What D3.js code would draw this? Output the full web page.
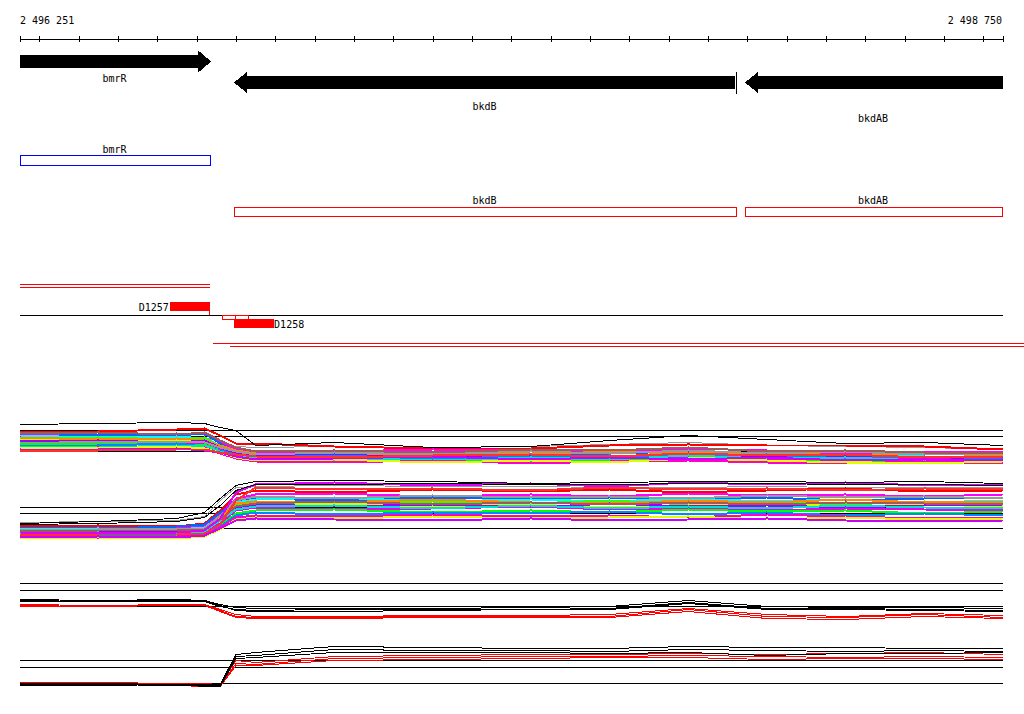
<!DOCTYPE html>
<html>
<head>
<meta charset="utf-8">
<title>bmrR / bkdB / bkdAB</title>
<style>
  body { margin: 0; background: #fff; }
  svg { display: block; }
  text { font-family: "DejaVu Sans Mono", monospace; font-size: 10px; fill: #000; }
  path, rect, line { shape-rendering: crispEdges; }
</style>
<script src="https://d3js.org/d3.v7.min.js"></script>
</head>
<body>
<script>

// genomic window
const viewRange = [2496251, 2498750];
const endLabels = ["2 496 251", "2 498 750"];
const tickPos = d3.range(2496300, 2498750, 100);

const geneNames   = ["bmrR", "bkdB", "bkdAB"];
const geneStarts  = [2496251, 2496795, 2498094];
const geneEnds    = [2496737, 2498074, 2498750];
const geneStrands = [1, -1, -1];

// oligo probes
const probeNames  = ["D1257", "D1258"];
const probeStarts = [2496632, 2496795];
const probeEnds   = [2496734, 2496897];
const probeBoxes  = [[2496764, 2496797], [2496797, 2496830]];
const redUpper    = [[2496251, 2496734], [2496251, 2496734]];
const redLower    = [[2496742, 2498810], [2496785, 2498810]];

// positions where the profiles were sampled
const knotPos = [2496251, 2496450, 2496650, 2496720, 2496760, 2496800, 2496850, 2497050,
                 2497300, 2497550, 2497750, 2497950, 2498150, 2498350, 2498550, 2498750];

// panel A (first colour block)
const panelARef = [2.1, 1.5, 0];
const panelABlack = [2.7,2.8,2.9,2.8,2.4,2.1,0.6,0.9,0.4,0.5,1.1,1.6,1.2,0.8,0.9,0.6];
const panelAGray  = [1.4,1.5,1.5,1.4,1.0,0.5,0.4,0.5,0.4,0.5,0.7,0.9,0.6,0.5,0.4,0.2];
const panelAColor = [
  [1.9,2.0,2.2,2.3,1.6,0.8,0.8,0.5,0.3,0.3,0.6,0.7,0.6,0.6,0.5,0.2],
  [1.7,1.6,1.8,1.7,1.0,0.2,-0.1,0,0.2,0.1,-0.1,0.3,0.1,-0.2,-0.1,0],
  [1.5,1.7,1.6,1.8,0.8,0,-0.3,-0.5,-0.3,-0.6,-0.2,0,-0.4,-0.3,-0.6,-0.5],
  [1.6,1.4,1.5,1.3,0.6,-0.2,-0.4,-0.2,-0.7,-0.4,-0.6,-0.2,-0.6,-0.4,-0.5,-0.8],
  [1.3,1.4,1.2,1.4,0.5,-0.3,-0.6,-0.8,-0.5,-0.7,-0.4,-0.5,-0.8,-0.6,-0.9,-0.7],
  [1.1,1.2,1.1,1.0,0.3,-0.5,-0.8,-0.6,-1.0,-0.8,-0.9,-0.6,-0.7,-1.0,-0.8,-1.1],
  [1.4,1.2,1.3,1.1,0.6,0.1,-0.2,-0.4,-0.1,-0.3,0,-0.2,-0.1,-0.4,-0.2,-0.4],
  [1.0,1.1,0.9,1.1,0.4,-0.2,-0.5,-0.3,-0.6,-0.4,-0.7,-0.3,-0.5,-0.4,-0.7,-0.6],
  [0.9,0.7,0.9,0.8,0.2,-0.4,-0.7,-0.9,-0.7,-0.9,-0.6,-0.7,-0.8,-0.9,-0.7,-1.0],
  [0.8,1.0,1.0,0.9,0.4,0,-0.3,-0.1,-0.3,0,-0.2,0.1,-0.2,0,-0.3,-0.2],
  [0.7,0.8,0.6,0.7,0.1,-0.5,-0.8,-1.0,-0.8,-1.1,-0.9,-0.8,-1.0,-0.8,-1.1,-1.0],
  [0.6,0.6,0.8,0.5,0.1,-0.3,-0.6,-0.4,-0.7,-0.5,-0.4,-0.5,-0.3,-0.7,-0.5,-0.7],
  [0.5,0.4,0.6,0.6,0,-0.4,-0.7,-0.6,-0.9,-0.6,-0.8,-0.4,-0.7,-0.6,-0.9,-0.8],
  [0.3,0.4,0.3,0.4,-0.2,-0.7,-1.0,-1.1,-0.9,-1.2,-1.0,-0.9,-1.1,-1.2,-1.0,-1.2],
  [0.4,0.3,0.5,0.3,-0.1,-0.6,-0.9,-0.8,-1.1,-0.9,-1.1,-0.7,-0.9,-1.1,-1.2,-1.0],
  [1.8,1.9,1.7,1.9,1.1,0.4,0,0.1,-0.1,0.2,0.1,0.4,0,0.1,-0.1,-0.1],
  [0.2,0.2,0.3,0.1,-0.1,-0.5,-0.8,-0.7,-0.5,-0.8,-0.6,-0.8,-0.6,-0.9,-0.8,-0.9],
  [0.1,0.1,0.2,0.2,-0.1,-0.3,-0.5,-0.6,-0.4,-0.3,-0.5,-0.2,-0.4,-0.3,-0.6,-0.5]
];

// panel B (second colour block)
const panelBRef = [2.1, 1.5, 0];
const panelBBlack = [
  [0.5,0.7,1.0,1.6,3.0,4.3,4.7,4.8,4.7,4.5,4.6,4.7,4.7,4.6,4.7,4.5],
  [0.4,0.5,0.7,1.1,2.3,3.8,4.4,4.4,4.5,4.4,4.4,4.5,4.5,4.4,4.4,4.3]
];
const panelBGray  = [0.6,0.7,0.8,1.2,2.8,4.1,4.2,4.3,4.2,4.2,4.1,4.1,4.2,4.1,4.1,4.1];
const panelBColor = [
  [0.2,0.3,0.2,0.5,1.8,3.4,3.8,3.6,3.9,3.7,3.9,3.6,3.8,4.0,3.7,3.8],
  [0,0.1,0,0.2,1.4,3.0,3.4,3.5,3.2,3.4,3.2,3.5,3.3,3.4,3.2,3.4],
  [0.1,0,0.2,0.4,1.6,2.8,3.0,2.8,3.1,2.9,3.1,2.9,3.1,2.8,3.0,3.1],
  [-0.1,0,-0.1,0.1,1.2,2.6,2.9,3.1,2.7,2.9,2.7,3.0,2.7,2.9,2.6,2.8],
  [-0.3,-0.1,-0.3,-0.1,1.0,2.3,2.6,2.4,2.7,2.5,2.8,2.4,2.6,2.4,2.7,2.5],
  [-0.5,-0.5,-0.3,-0.3,0.7,2.0,2.3,2.5,2.2,2.4,2.1,2.3,2.5,2.2,2.4,2.2],
  [-0.2,-0.3,-0.1,0,1.1,2.5,2.7,2.6,2.9,2.6,2.5,2.8,2.6,2.9,2.6,2.7],
  [-0.4,-0.3,-0.4,-0.2,0.8,2.1,2.4,2.2,2.4,2.1,2.5,2.2,2.3,2.1,2.3,2.4],
  [-0.6,-0.7,-0.5,-0.4,0.5,1.8,2.1,1.9,2.0,2.2,1.9,2.0,1.8,2.0,1.9,1.8],
  [-0.2,-0.1,0,0,1.3,2.8,3.2,3.0,3.3,3.1,3.2,3.0,3.3,3.1,3.2,3.0],
  [-0.7,-0.6,-0.7,-0.5,0.3,1.5,1.8,1.9,1.6,1.8,1.6,1.9,1.7,1.8,1.5,1.7],
  [-0.8,-0.8,-0.6,-0.6,0.2,1.3,1.6,1.4,1.6,1.5,1.7,1.4,1.6,1.3,1.5,1.3],
  [-0.5,-0.4,-0.5,-0.3,0.8,1.9,2.2,2.3,2.0,2.3,2.0,2.2,2.0,2.3,2.1,2.0],
  [-0.9,-1.0,-0.8,-0.7,0.1,1.1,1.3,1.2,1.4,1.2,1.3,1.1,1.4,1.2,1.0,1.1],
  [-1.0,-0.9,-1.0,-0.8,-0.1,0.9,1.1,1.0,1.2,1.0,1.1,1.2,0.9,1.1,0.9,1.0],
  [-0.3,-0.2,-0.2,-0.1,0.9,2.2,2.5,2.7,2.4,2.6,2.4,2.6,2.4,2.6,2.5,2.4],
  [-0.9,-0.8,-0.9,-0.7,0,0.8,1.0,0.9,0.8,1.0,0.8,0.9,1.0,0.8,0.7,0.8],
  [-0.7,-0.6,-0.6,-0.5,0.4,2.8,4.1,3.9,4.0,3.8,4.1,3.9,4.0,3.8,4.0,3.9],
  [-0.4,-0.5,-0.4,-0.2,1.0,3.6,4.4,4.6,4.3,4.5,4.2,4.6,4.4,4.6,4.3,4.4]
];

// panel C (black / red, first)
const panelCRef = [2.3, 1.6, 0];
const panelCBlack = [
  [0.7,0.6,0.7,0.6,0.2,-0.1,-0.2,-0.2,-0.2,-0.1,0,0.6,0,-0.1,-0.1,-0.2],
  [0.5,0.5,0.6,0.5,0,-0.3,-0.4,-0.3,-0.3,-0.3,-0.2,0.4,-0.2,-0.2,-0.3,-0.4],
  [0.6,0.5,0.5,0.5,0.1,-0.4,-0.5,-0.5,-0.4,-0.3,-0.3,0.3,-0.3,-0.3,-0.4,-0.5]
];
const panelCRed = [
  [0.2,0.1,0.2,0.2,-0.3,-0.8,-1.0,-1.0,-0.9,-0.9,-0.8,-0.2,-0.8,-1.0,-0.7,-0.9],
  [0.1,0,0.1,0.1,-0.4,-1.0,-1.1,-1.1,-1.0,-1.0,-1.0,-0.3,-1.0,-1.1,-0.8,-1.1],
  [0,0,0.2,0.1,-0.5,-1.1,-1.2,-1.2,-1.1,-1.1,-1.1,-0.5,-1.2,-1.3,-1.0,-1.2]
];

// panel D (black / red, second)
const panelDRef = [2.3, 1.6, 0];
const panelDBlack = [
  [0,0,-0.1,-0.1,-0.1,2.9,3.1,3.7,3.6,3.5,3.5,3.7,3.6,3.6,3.5,3.5],
  [-0.1,-0.1,-0.2,-0.2,-0.2,2.7,2.8,3.4,3.3,3.3,3.2,3.4,3.3,3.2,3.3,3.2],
  [-0.2,-0.2,-0.1,-0.3,-0.3,2.5,2.6,3.1,3.1,3.1,3.0,3.1,2.8,3.0,3.0,3.1]
];
const panelDRed = [
  [0.1,0.1,0,0,-0.1,2.3,2.1,2.7,2.8,2.9,2.9,3.0,2.9,3.0,3.1,2.9],
  [0,0,-0.1,-0.2,-0.2,2.0,1.9,2.5,2.6,2.7,2.7,2.8,2.7,2.6,2.7,2.6],
  [-0.1,-0.1,-0.2,-0.3,-0.3,1.8,1.8,2.3,2.4,2.5,2.6,2.6,2.4,2.5,2.5,2.4]
];

const seriesColors = ["#ff0000","#ff00ff","#0066ff","#00ffff","#33ff00","#ccff00","#ff8800","#9900ff",
                      "#ee00ee","#999999","#00ff00","#0088ff","#00dddd","#ff00cc","#ddff00","#a05a5a",
                      "#cc00ff","#ff3030","#dd00ff"];

const width = 1024, height = 714;

const svg = d3.select("body").append("svg")
    .attr("width", width)
    .attr("height", height);

const x = d3.scaleLinear().domain(viewRange).range([20, 1003]);

// ruler
svg.append("text").attr("x", 20).attr("y", 24).text(endLabels[0]);
svg.append("text").attr("x", 1002).attr("y", 24).attr("text-anchor", "end").text(endLabels[1]);

[d3.axisTop(x), d3.axisBottom(x)].forEach(ax => {
    svg.append("g")
        .attr("transform", "translate(0,38.5)")
        .call(ax.tickValues(tickPos).tickSizeInner(3).tickSizeOuter(3).tickFormat(""))
        .call(g => g.selectAll("path, line").attr("stroke", "#000"));
});

// gene arrows
let revCount = 0;
geneNames.forEach((name, i) => {
    let x0 = x(geneStarts[i]), x1 = x(geneEnds[i]);
    let head = 13, fwd = geneStrands[i] > 0;
    let cy = fwd ? 61.5 : 82.5, bh = 6.5, hh = fwd ? 11 : 10.5;
    let pts;
    if (fwd) {
        pts = [[x0, cy - bh], [x1 - head, cy - bh], [x1 - head, cy - hh], [x1, cy],
               [x1 - head, cy + hh], [x1 - head, cy + bh], [x0, cy + bh]];
    } else {
        let bodyEnd = geneEnds[i] < viewRange[1] ? x1 - 2 : x1;
        pts = [[bodyEnd, cy - bh], [x0 + head, cy - bh], [x0 + head, cy - hh], [x0, cy],
               [x0 + head, cy + hh], [x0 + head, cy + bh], [bodyEnd, cy + bh]];
        if (geneEnds[i] < viewRange[1]) {
            svg.append("line")
                .attr("x1", x1 - 0.5).attr("x2", x1 - 0.5)
                .attr("y1", cy - hh).attr("y2", cy + hh + 1)
                .attr("stroke", "#000");
        }
    }
    svg.append("path").attr("d", "M" + pts.join("L") + "Z").attr("fill", "#000");

    let ly = fwd ? 82 : 110 + 12 * (revCount++ % 2);
    svg.append("text").attr("x", (x0 + x1) / 2 - 1).attr("y", ly)
        .attr("text-anchor", "middle").text(name);

    // box track
    svg.append("rect")
        .attr("x", x0 + 0.5).attr("width", x1 - x0 - 1)
        .attr("y", fwd ? 155.5 : 207.5).attr("height", fwd ? 10 : 9)
        .attr("fill", "none").attr("stroke", fwd ? "#0000ff" : "#ff0000");
    svg.append("text").attr("x", (x0 + x1) / 2 - 1).attr("y", fwd ? 153 : 204)
        .attr("text-anchor", "middle").text(name);
});

// probes
redUpper.forEach((r, i) => {
    svg.append("line").attr("x1", x(r[0])).attr("x2", x(r[1]))
        .attr("y1", 284.5 + 2.5 * i).attr("y2", 284.5 + 2.5 * i).attr("stroke", "#ff0000");
});
redLower.forEach((r, i) => {
    svg.append("line").attr("x1", x(r[0])).attr("x2", x(r[1]))
        .attr("y1", 343.5 + 3 * i).attr("y2", 343.5 + 3 * i).attr("stroke", "#ff0000");
});

svg.append("line").attr("x1", x(viewRange[0])).attr("x2", x(viewRange[1]))
    .attr("y1", 315.5).attr("y2", 315.5).attr("stroke", "#000");

probeNames.forEach((name, i) => {
    let x0 = x(probeStarts[i]), x1 = x(probeEnds[i]);
    let y0 = i === 0 ? 302 : 319;
    svg.append("rect").attr("x", x0).attr("y", y0).attr("width", x1 - x0).attr("height", 9)
        .attr("fill", "#ff0000");
    svg.append("text")
        .attr("x", i === 0 ? x0 - 1 : x1)
        .attr("y", y0 + 8.5)
        .attr("text-anchor", i === 0 ? "end" : "start")
        .text(name);
    if (i === 0) {
        svg.append("line").attr("x1", x1 - 0.5).attr("x2", x1 - 0.5)
            .attr("y1", y0 + 9).attr("y2", 315).attr("stroke", "#ff0000");
    }
});
probeBoxes.forEach(b => {
    svg.append("rect").attr("x", x(b[0]) + 0.5).attr("y", 315.5)
        .attr("width", x(b[1]) - x(b[0])).attr("height", 3.5)
        .attr("fill", "none").attr("stroke", "#ff0000");
});

// profile panels
function drawPanel(base, refVals, layers) {
    let y = d3.scaleLinear().domain([0, 1]).range([base + 0.5, base - 9.5]);
    let g = svg.append("g");
    refVals.forEach(v => {
        g.append("line").attr("x1", x(viewRange[0])).attr("x2", x(viewRange[1]))
            .attr("y1", y(v)).attr("y2", y(v)).attr("stroke", "#000");
    });
    let line = d3.line().x((d, i) => x(knotPos[i])).y(d => y(d));
    layers.forEach(l => {
        g.append("path")
            .attr("d", line(l.values))
            .attr("fill", "none")
            .attr("stroke", l.color)
            .attr("stroke-width", l.w || 1);
    });
}

drawPanel(451, panelARef,
    [{values: panelAGray, color: "#999999"}]
    .concat(panelAColor.map((v, i) => ({values: v, color: seriesColors[i], w: 2})))
    .concat([{values: panelABlack, color: "#000"}]));

drawPanel(528, panelBRef,
    [{values: panelBGray, color: "#999999"}]
    .concat(panelBColor.map((v, i) => ({values: v, color: seriesColors[i], w: 2})))
    .concat(panelBBlack.map(v => ({values: v, color: "#000"}))));

drawPanel(606, panelCRef,
    panelCRed.map(v => ({values: v, color: "#ff0000"}))
    .concat(panelCBlack.map(v => ({values: v, color: "#000"}))));

drawPanel(683, panelDRef,
    panelDRed.map(v => ({values: v, color: "#ff0000"}))
    .concat(panelDBlack.map(v => ({values: v, color: "#000"}))));

</script>
</body>
</html>
